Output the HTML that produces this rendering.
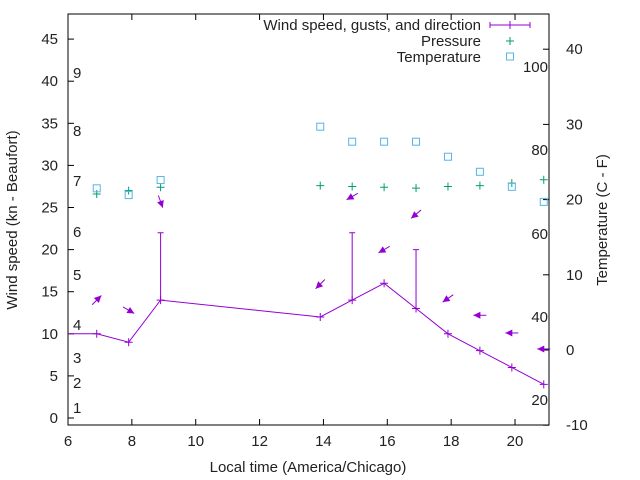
<!DOCTYPE html>
<html><head><meta charset="utf-8"><style>
body{margin:0;background:#fff}
svg{display:block;font-family:"Liberation Sans",sans-serif}
</style></head><body>
<svg id="c" width="640" height="480" xmlns="http://www.w3.org/2000/svg"></svg>
<script>
const hours=[6.9,7.9,8.9,13.9,14.9,15.9,16.9,17.9,18.9,19.9,20.9];
const wind=[10,9,14,12,14,16,13,10,8,6,4];
const gustHours=[8.9,14.9,16.9];
const gusts=[22,22,20];
const pressure=[26.6,27.0,27.4,27.6,27.5,27.4,27.3,27.5,27.6,27.9,28.3];
const temperature=[21.5,20.6,22.6,29.7,27.7,27.7,27.7,25.7,23.7,21.7,19.7];
const arrowLevel=[14,12.8,25.7,15.9,26.3,20.0,24.2,14.2,12.2,10.1,8.2];
const arrowDir=[45,-30,-70,-135,-150,-150,-140,-145,180,180,180];
const xTicks=[6,8,10,12,14,16,18,20];
const yTicks=[0,5,10,15,20,25,30,35,40,45];
const y2Ticks=[-10,0,10,20,30,40];
const beaufort=[["1",408],["2",383],["3",358],["4",325],["5",275],["6",232],["7",181],["8",131],["9",73]];
const fahr=[["20",400],["40",317],["60",234],["80",150],["100",67]];
const L=68,R=549,T=14,B=425;
const X=h=>L+(h-6)*31.93;
const Y=v=>418-v*8.42;
const Y2=t=>350-t*7.52;
const svg=document.getElementById('c');
const NS="http://www.w3.org/2000/svg";
function el(tag,attrs,parent){const e=document.createElementNS(NS,tag);for(const k in attrs)e.setAttribute(k,attrs[k]);(parent||svg).appendChild(e);return e;}
function txt(x,y,s,anchor,name,size){const t=el('text',{x:x,y:y,'text-anchor':anchor,'font-size':size||15,fill:'#222'});t.textContent=s;return t;}
const fr=el('rect',{x:L,y:T,width:R-L,height:B-T,fill:'none',stroke:'#000','stroke-width':1});


xTicks.forEach(h=>{const x=X(h);
 el('line',{x1:x,y1:B,x2:x,y2:B-6,stroke:'#000'});
 el('line',{x1:x,y1:T,x2:x,y2:T+6,stroke:'#000'});
 txt(x,446,String(h),'middle','x-tick-label');});
yTicks.forEach(v=>{const y=Y(v);
 el('line',{x1:L,y1:y,x2:L+6,y2:y,stroke:'#000'});
 txt(L-10,y+5,String(v),'end','y-tick-label');});
y2Ticks.forEach(t=>{const y=Y2(t);
 el('line',{x1:R,y1:y,x2:R-6,y2:y,stroke:'#000'});
 txt(R+17,y+5,String(t),'start','y2-tick-label');});
beaufort.forEach(b=>txt(73,b[1]+5,b[0],'start','beaufort-label'));
fahr.forEach(f=>txt(548,f[1]+5,f[0],'end','fahrenheit-label'));
txt(308,472,'Local time (America/Chicago)','middle','x-axis-title');
const yt=txt(17,220,'Wind speed (kn - Beaufort)','middle','y-axis-title');yt.setAttribute('transform','rotate(-90 17 220)');
const y2t=txt(607,220,'Temperature (C - F)','middle','y2-axis-title');y2t.setAttribute('transform','rotate(-90 607 220)');
const P='#9400d3',G='#009e73',C='#56b4e9';
let d='M'+L+' '+Y(wind[0]);
hours.forEach((h,i)=>{d+=' L'+X(h)+' '+Y(wind[i]);});
const wl=el('path',{d:d,fill:'none',stroke:P,'stroke-width':1});


hours.forEach((h,i)=>{const x=X(h),y=Y(wind[i]);
 const p=el('path',{d:`M${x-4} ${y}h8M${x} ${y-4}v8`,stroke:P});
 
 });
gustHours.forEach((h,i)=>{const x=X(h);const j=hours.indexOf(h);
 const g=el('path',{d:`M${x} ${Y(wind[j])}V${Y(gusts[i])}M${x-3} ${Y(gusts[i])}h6`,stroke:P});
 
 });
hours.forEach((h,i)=>{const x=X(h),y=Y(arrowLevel[i]);const a=arrowDir[i]*Math.PI/180;
 const dx=Math.cos(a),dy=-Math.sin(a);const len=13;
 const x0=x-dx*len/2,y0=y-dy*len/2,x1=x+dx*len/2,y1=y+dy*len/2;
 const px=-dy,py=dx;
 const g=el('g',{});
 
 
 el('line',{x1:x0,y1:y0,x2:x1,y2:y1,stroke:P},g);
 el('polygon',{points:`${x1},${y1} ${x1-dx*7+px*3.5},${y1-dy*7+py*3.5} ${x1-dx*7-px*3.5},${y1-dy*7-py*3.5}`,fill:P},g);});
hours.forEach((h,i)=>{const x=X(h),y=Y(pressure[i]);
 const p=el('path',{d:`M${x-4} ${y}h8M${x} ${y-4}v8`,stroke:G});
 
 });
hours.forEach((h,i)=>{const x=X(h),y=Y2(temperature[i]);
 const r=el('rect',{x:x-3.5,y:y-3.5,width:7,height:7,fill:'none',stroke:C});
 
 });
txt(481,30,'Wind speed, gusts, and direction','end','legend-wind');
txt(481,46,'Pressure','end','legend-pressure');
txt(481,62,'Temperature','end','legend-temperature');
const lw=el('path',{d:'M490 25H530M490 22v6M530 22v6M510 21v8',stroke:P});


const lp=el('path',{d:'M506 41h8M510 37v8',stroke:G});


const lt=el('rect',{x:506.5,y:53,width:7,height:7,fill:'none',stroke:C});


</script>
</body></html>
